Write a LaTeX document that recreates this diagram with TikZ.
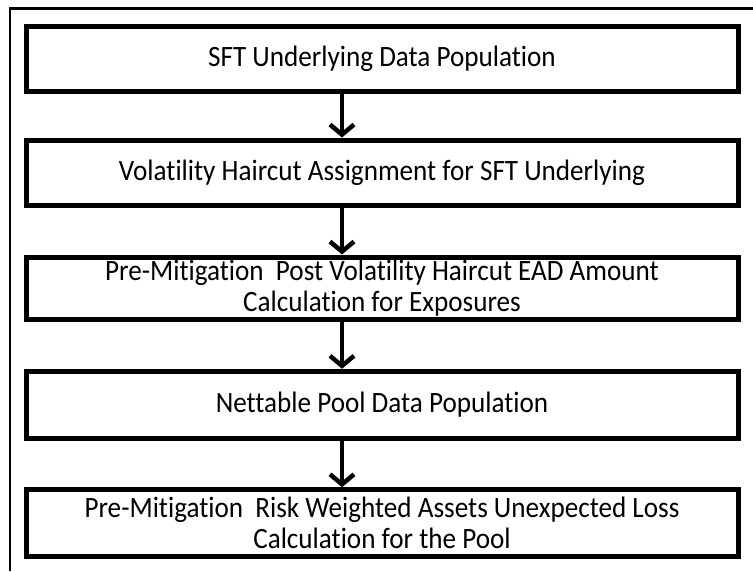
\documentclass[tikz,border=0pt]{standalone}
\usepackage{fontspec}
\setmainfont{Carlito}[Ligatures=NoCommon, FakeStretch=0.92]
\usetikzlibrary{positioning, arrows.meta}

\begin{document}
\begin{tikzpicture}[
    x=1pt, y=-1pt,
    stage/.style={draw, line width=5pt, rectangle, minimum width=712pt, align=center, inner sep=0pt, font=\fontsize{29.5}{30.5}\selectfont},
    frame/.style={draw, line width=2.2pt},
    arr/.style={-{Straight Barb[length=10pt, width=24pt]}, line width=4.5pt}
]
    \useasboundingbox (0,0) rectangle (753,571);
    \draw[frame] (10,571) |- (753,8.5);

    \node[stage, minimum height=65.5pt] (s1) at (382, 58.75) {SFT Underlying Data Population};
    \node[stage, minimum height=65pt] (s2) at (382, 172.5) {Volatility Haircut Assignment for SFT Underlying};
    \node[stage, minimum height=62pt] (s3) at (382, 288) {Pre-Mitigation~ Post Volatility Haircut EAD Amount\\Calculation for Exposures};
    \node[stage, minimum height=67.5pt] (s4) at (382, 405) {Nettable Pool Data Population};
    \node[stage, minimum height=66.5pt] (s5) at (382, 523) {Pre-Mitigation~ Risk Weighted Assets Unexpected Loss\\Calculation for the Pool};

    \draw[arr] (s1.south -| 342,0) -- (s2.north -| 342,0);
    \draw[arr] (s2.south -| 342,0) -- (s3.north -| 342,0);
    \draw[arr] (s3.south -| 342,0) -- (s4.north -| 342,0);
    \draw[arr] (s4.south -| 342,0) -- (s5.north -| 342,0);
\end{tikzpicture}
\end{document}
